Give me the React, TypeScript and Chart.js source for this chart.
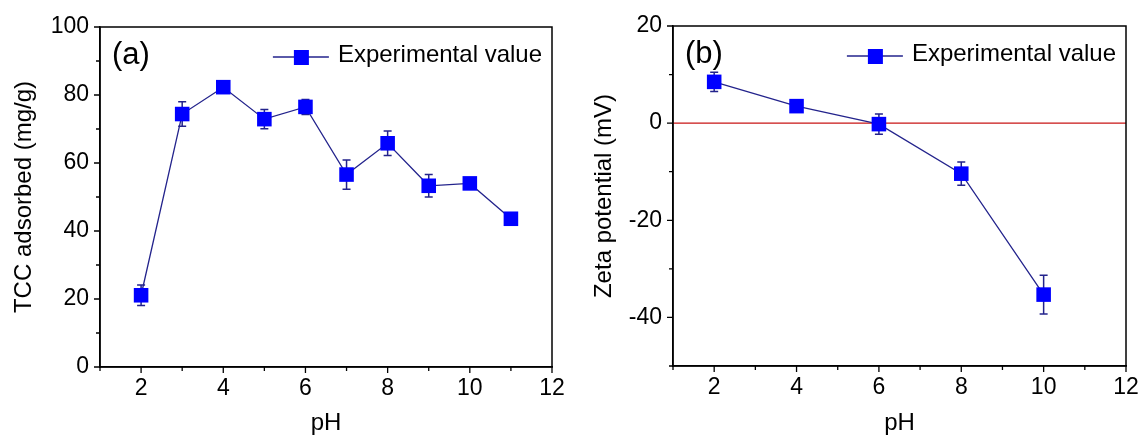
import React, { useEffect, useRef } from 'react';
import { Chart, registerables } from 'chart.js';

Chart.register(...registerables);

// ---- Data ----
const phA = [2, 3, 4, 5, 6, 7, 8, 9, 10, 11];
const tccAdsorbed = [21.1, 74.4, 82.3, 72.9, 76.5, 56.6, 65.8, 53.3, 54.0, 43.6];
const tccError = [3.0, 3.6, 1.6, 2.8, 2.2, 4.3, 3.6, 3.3, 0.6, 1.0];

const phB = [2, 4, 6, 8, 10];
const zetaPotential = [8.5, 3.5, -0.2, -10.4, -35.3];
const zetaError = [2.0, 1.0, 2.1, 2.4, 4.0];

const zeroLineX = [1, 12];
const zeroLineY = [0, 0];

const legendLabel = 'Experimental value';
const xTitle = 'pH';
const yTitleA = 'TCC adsorbed (mg/g)';
const yTitleB = 'Zeta potential (mV)';
const tagA = '(a)';
const tagB = '(b)';

const FONT = '"Liberation Sans", Arial, sans-serif';
const LINE_COLOR = '#23238c';
const MARKER_COLOR = '#0000ff';
const ZERO_COLOR = '#c81414';

interface PanelSpec {
  x: number[];
  y: number[];
  err: number[];
  yMin: number;
  yMax: number;
  yTitle: string;
  tag: string;
  zeroLine: boolean;
  width: number;
  yAxisWidth: number;
  xAxisHeight: number;
  padTop: number;
  padRight: number;
}

function makePlugin(spec: PanelSpec) {
  return {
    id: 'panelDecor',
    beforeDatasetsDraw(chart: any) {
      const ctx = chart.ctx;
      const xs = chart.scales.x;
      const ys = chart.scales.y;
      ctx.save();
      ctx.strokeStyle = LINE_COLOR;
      ctx.lineWidth = 1.5;
      spec.x.forEach((xv, i) => {
        const e = spec.err[i];
        if (!e) return;
        const px = xs.getPixelForValue(xv);
        const top = ys.getPixelForValue(spec.y[i] + e);
        const bot = ys.getPixelForValue(spec.y[i] - e);
        ctx.beginPath();
        ctx.moveTo(px, top);
        ctx.lineTo(px, bot);
        ctx.moveTo(px - 4, top);
        ctx.lineTo(px + 4, top);
        ctx.moveTo(px - 4, bot);
        ctx.lineTo(px + 4, bot);
        ctx.stroke();
      });
      ctx.restore();
    },
    afterDraw(chart: any) {
      const ctx = chart.ctx;
      const a = chart.chartArea;
      const xs = chart.scales.x;
      const ys = chart.scales.y;
      ctx.save();
      // frame
      ctx.strokeStyle = '#000';
      ctx.lineWidth = 1.5;
      ctx.strokeRect(a.left, a.top, a.right - a.left, a.bottom - a.top);
      // ticks
      ctx.lineWidth = 1.3;
      ctx.beginPath();
      xs.ticks.forEach((t: any) => {
        const px = xs.getPixelForValue(t.value);
        const len = t.value % 2 === 0 ? 6 : 4;
        ctx.moveTo(px, a.bottom);
        ctx.lineTo(px, a.bottom + len);
      });
      ys.ticks.forEach((t: any) => {
        const py = ys.getPixelForValue(t.value);
        const len = t.value % 20 === 0 ? 6 : 4;
        ctx.moveTo(a.left, py);
        ctx.lineTo(a.left - len, py);
      });
      ctx.stroke();
      // tag
      ctx.fillStyle = '#000';
      ctx.font = `31px ${FONT}`;
      ctx.textAlign = 'left';
      ctx.textBaseline = 'middle';
      ctx.fillText(spec.tag, a.left + 12, a.top + 28);
      // legend
      ctx.font = `24px ${FONT}`;
      const w = ctx.measureText(legendLabel).width;
      const tx = a.right - 10 - w;
      const ly = a.top + 29;
      ctx.fillText(legendLabel, tx, ly - 1);
      ctx.strokeStyle = LINE_COLOR;
      ctx.lineWidth = 1.3;
      ctx.beginPath();
      ctx.moveTo(tx - 65, ly + 1);
      ctx.lineTo(tx - 9, ly + 1);
      ctx.stroke();
      ctx.fillStyle = MARKER_COLOR;
      ctx.fillRect(tx - 44, ly - 6, 15, 15);
      ctx.restore();
    },
  };
}

function makeConfig(spec: PanelSpec): any {
  const datasets: any[] = [
    {
      type: 'line',
      label: legendLabel,
      data: spec.x.map((xv, i) => ({ x: xv, y: spec.y[i] })),
      borderColor: LINE_COLOR,
      borderWidth: 1.3,
      pointStyle: 'rect',
      pointRadius: 10.3,
      pointBackgroundColor: MARKER_COLOR,
      pointBorderColor: MARKER_COLOR,
      pointBorderWidth: 0,
      tension: 0,
      order: 1,
      clip: false,
    },
  ];
  if (spec.zeroLine) {
    datasets.push({
      type: 'line',
      label: 'zero',
      data: zeroLineX.map((xv, i) => ({ x: xv, y: zeroLineY[i] })),
      borderColor: ZERO_COLOR,
      borderWidth: 1.3,
      pointRadius: 0,
      order: 2,
    });
  }
  return {
    type: 'line',
    data: { datasets },
    plugins: [makePlugin(spec)],
    options: {
      animation: false,
      responsive: false,
      events: [],
      layout: { padding: { top: spec.padTop, right: spec.padRight, left: 0, bottom: 0 } },
      plugins: { legend: { display: false }, tooltip: { enabled: false } },
      scales: {
        x: {
          type: 'linear',
          min: 1,
          max: 12,
          afterFit: (s: any) => {
            s.height = spec.xAxisHeight;
            s.paddingLeft = 0;
            s.paddingRight = 0;
          },
          ticks: {
            stepSize: 1,
            autoSkip: false,
            maxRotation: 0,
            padding: 8,
            color: '#000',
            font: { family: FONT, size: 23 },
            callback: (v: any) => (Number(v) % 2 === 0 ? String(v) : ''),
          },
          grid: { display: true, drawOnChartArea: false, drawTicks: false },
          border: { display: true, color: '#000', width: 1.5 },
          title: {
            display: true,
            text: xTitle,
            color: '#000',
            font: { family: FONT, size: 24, lineHeight: 1 },
            padding: { top: 0, bottom: 0 },
          },
        },
        y: {
          type: 'linear',
          min: spec.yMin,
          max: spec.yMax,
          afterFit: (s: any) => {
            s.width = spec.yAxisWidth;
            s.paddingTop = 0;
            s.paddingBottom = 0;
          },
          ticks: {
            stepSize: 10,
            autoSkip: false,
            padding: 11,
            color: '#000',
            font: { family: FONT, size: 23 },
            callback: (v: any) => (Number(v) % 20 === 0 ? String(v) : ''),
          },
          grid: { display: true, drawOnChartArea: false, drawTicks: false },
          border: { display: true, color: '#000', width: 1.5 },
          title: {
            display: true,
            text: spec.yTitle,
            color: '#000',
            font: { family: FONT, size: 24, lineHeight: 1 },
            padding: { top: 12, bottom: 0 },
          },
        },
      },
    },
  };
}

function Panel({ spec, left }: { spec: PanelSpec; left: number }) {
  const ref = useRef<HTMLCanvasElement | null>(null);
  useEffect(() => {
    if (!ref.current) return;
    const chart = new Chart(ref.current, makeConfig(spec));
    return () => chart.destroy();
  }, [spec]);
  return (
    <canvas
      ref={ref}
      width={spec.width}
      height={435}
      style={{ position: 'absolute', left, top: 0, width: spec.width, height: 435 }}
    />
  );
}

const specA: PanelSpec = {
  x: phA,
  y: tccAdsorbed,
  err: tccError,
  yMin: 0,
  yMax: 100,
  yTitle: yTitleA,
  tag: tagA,
  zeroLine: false,
  width: 570,
  yAxisWidth: 100,
  xAxisHeight: 68,
  padTop: 27,
  padRight: 18,
};

const specB: PanelSpec = {
  x: phB,
  y: zetaPotential,
  err: zetaError,
  yMin: -50,
  yMax: 20,
  yTitle: yTitleB,
  tag: tagB,
  zeroLine: true,
  width: 561,
  yAxisWidth: 93,
  xAxisHeight: 69,
  padTop: 26,
  padRight: 15,
};

export default function App() {
  return (
    <div
      style={{
        position: 'absolute',
        left: 0,
        top: 0,
        width: 1141,
        height: 435,
        background: '#fff',
        overflow: 'hidden',
      }}
    >
      <Panel spec={specA} left={0} />
      <Panel spec={specB} left={580} />
    </div>
  );
}
